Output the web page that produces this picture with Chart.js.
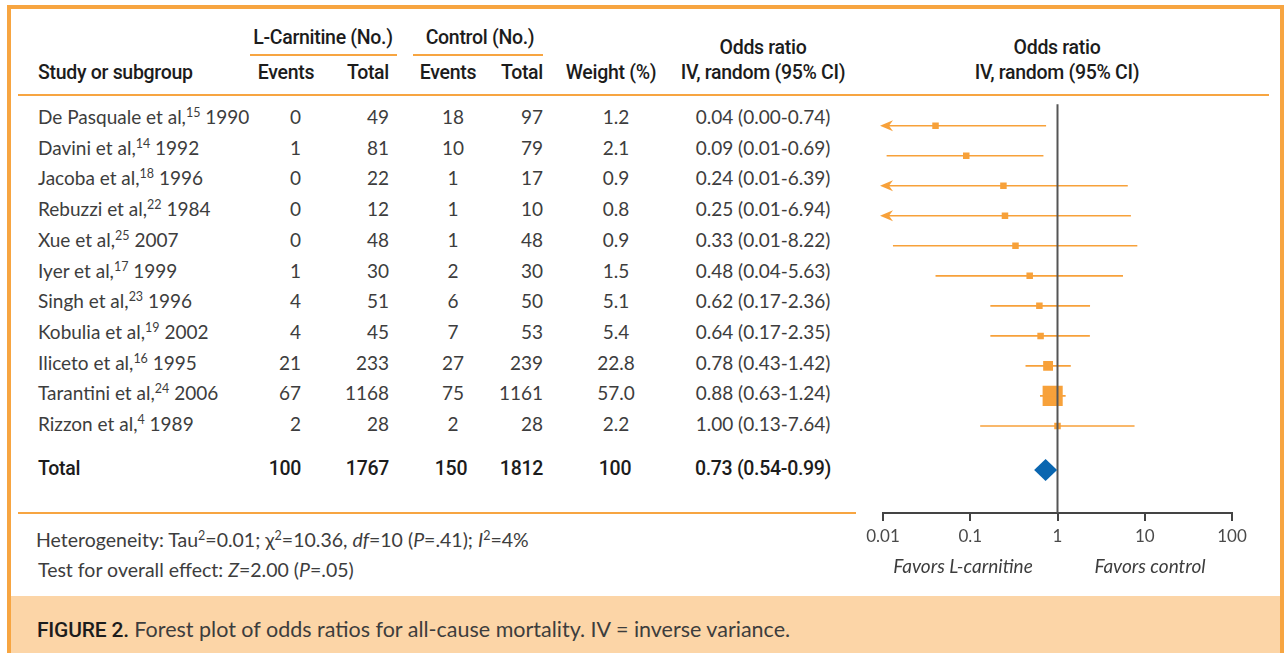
<!DOCTYPE html>
<html>
<head>
<meta charset="utf-8">
<script src="https://cdn.jsdelivr.net/npm/chart.js@4/dist/chart.umd.min.js"></script>
<style>
  html,body{margin:0;padding:0;background:#fff;}
  body{width:1288px;height:653px;position:relative;overflow:hidden;font-family:"Lato","Open Sans",sans-serif;color:#3d3d3d;}
  .frame{position:absolute;left:7px;top:5px;width:1269px;height:700px;border:4px solid #F7A541;}
  .cap{position:absolute;left:11px;top:596px;width:1269px;height:60px;background:#FCD5A7;}
  .hl{position:absolute;background:#F7A541;}
  .t{position:absolute;white-space:nowrap;font-size:19px;line-height:22px;}
  .h{font-family:"Roboto","Liberation Sans",sans-serif;font-weight:500;color:#1c1c1c;font-size:19.5px;letter-spacing:-0.3px;}
  .b{font-family:"Roboto","Liberation Sans",sans-serif;font-weight:500;color:#1c1c1c;}
  .ft{font-size:19.5px;}
  sup{font-size:12.5px;line-height:0;vertical-align:7px;}
  canvas{position:absolute;left:860px;top:90px;}
</style>
</head>
<body>
<div class="frame"></div>
<div class="cap"></div>
<div class="hl" style="left:18px;top:94px;width:1251px;height:2px;"></div>
<div class="hl" style="left:18px;top:512px;width:838px;height:2px;"></div>
<div class="hl" style="left:250px;top:54px;width:147px;height:2px;"></div>
<div class="hl" style="left:413px;top:54px;width:130px;height:2px;"></div>
<canvas id="c" width="400" height="500"></canvas>
<script>
// ---- data ----
const studies   = ["De Pasquale et al", "Davini et al", "Jacoba et al", "Rebuzzi et al", "Xue et al", "Iyer et al", "Singh et al", "Kobulia et al", "Iliceto et al", "Tarantini et al", "Rizzon et al"];
const refs      = [15, 14, 18, 22, 25, 17, 23, 19, 16, 24, 4];
const years     = [1990, 1992, 1996, 1984, 2007, 1999, 1996, 2002, 1995, 2006, 1989];
const lcEvents  = [0, 1, 0, 0, 0, 1, 4, 4, 21, 67, 2];
const lcTotal   = [49, 81, 22, 12, 48, 30, 51, 45, 233, 1168, 28];
const ctEvents  = [18, 10, 1, 1, 1, 2, 6, 7, 27, 75, 2];
const ctTotal   = [97, 79, 17, 10, 48, 30, 50, 53, 239, 1161, 28];
const weights   = [1.2, 2.1, 0.9, 0.8, 0.9, 1.5, 5.1, 5.4, 22.8, 57.0, 2.2];
const oddsRatio = [0.04, 0.09, 0.24, 0.25, 0.33, 0.48, 0.62, 0.64, 0.78, 0.88, 1.00];
const ciLower   = [0.004, 0.011, 0.009, 0.009, 0.013, 0.04, 0.17, 0.17, 0.43, 0.63, 0.13];
const ciUpper   = [0.74, 0.69, 6.39, 6.94, 8.22, 5.63, 2.36, 2.35, 1.42, 1.24, 7.64];
const total     = {lcEvents:100, lcTotal:1767, ctEvents:150, ctTotal:1812, weight:100, or:0.73, lo:0.54, hi:0.99};
const xTicks    = [0.01, 0.1, 1, 10, 100];
const xTickLabels = ["0.01", "0.1", "1", "10", "100"];

// ---- text table ----
function put(html, x, y, align, cls){
  const d = document.createElement('div');
  d.className = 't' + (cls ? ' ' + cls : '');
  d.innerHTML = html;
  d.style.left = x + 'px';
  d.style.top = y + 'px';
  const tx = align === 'c' ? '-50%' : (align === 'r' ? '-100%' : '0');
  d.style.transform = 'translate(' + tx + ',-50%)';
  document.body.appendChild(d);
}
const f2 = v => v.toFixed(2);
put("L-Carnitine (No.)", 323, 38, 'c', 'h');
put("Control (No.)", 480, 38, 'c', 'h');
put("Study or subgroup", 38, 73, 'l', 'h');
put("Events", 286, 73, 'c', 'h');
put("Total", 389, 73, 'r', 'h');
put("Events", 448, 73, 'c', 'h');
put("Total", 543, 73, 'r', 'h');
put("Weight (%)", 611, 73, 'c', 'h');
put("Odds ratio", 763, 48, 'c', 'h');
put("IV, random (95% CI)", 763, 73, 'c', 'h');
put("Odds ratio", 1057, 48, 'c', 'h');
put("IV, random (95% CI)", 1057, 73, 'c', 'h');

const rowY0 = 117, rowStep = 30.7;
studies.forEach((s, i) => {
  const y = rowY0 + i * rowStep;
  put(s + ",<sup>" + refs[i] + "</sup> " + years[i], 38, y, 'l');
  put(String(lcEvents[i]), 301, y, 'r');
  put(String(lcTotal[i]), 389, y, 'r');
  put(String(ctEvents[i]), 453, y, 'c');
  put(String(ctTotal[i]), 543, y, 'r');
  put(weights[i].toFixed(1), 616, y, 'c');
  put(f2(oddsRatio[i]) + " (" + f2(ciLower[i]) + "-" + f2(ciUpper[i]) + ")", 763, y, 'c');
});
const ty = 469;
put("Total", 38, ty, 'l', 'h');
put(String(total.lcEvents), 301, ty, 'r', 'h');
put(String(total.lcTotal), 389, ty, 'r', 'h');
put(String(total.ctEvents), 451, ty, 'c', 'h');
put(String(total.ctTotal), 543, ty, 'r', 'h');
put(String(total.weight), 615, ty, 'c', 'h');
put(f2(total.or) + " (" + f2(total.lo) + "-" + f2(total.hi) + ")", 763, ty, 'c', 'h');

put("Heterogeneity: Tau<sup>2</sup>=0.01; χ<sup>2</sup>=10.36, <i>df</i>=10 (<i>P</i>=.41); <i>I</i><sup>2</sup>=4%", 36, 540, 'l', 'ft');
put("Test for overall effect: <i>Z</i>=2.00 (<i>P</i>=.05)", 38, 570, 'l', 'ft');
put("<i>Favors L-carnitine</i>", 963, 566, 'c');
put("<i>Favors control</i>", 1150, 566, 'c');
put("<span class='b' style='font-size:21px;letter-spacing:-0.2px'>FIGURE 2.</span> Forest plot of odds ratios for all-cause mortality. IV = inverse variance.", 37, 629, 'l', '');
document.querySelectorAll('.t')[document.querySelectorAll('.t').length - 1].style.fontSize = '21.5px';

// ---- chart ----
const ORANGE = '#F7A13A';
const xMin = xTicks[0], xMax = xTicks[xTicks.length - 1];
const totalRow = 11.47;
const ciLines = studies.map((s, i) => ({
  type: 'line',
  data: [{x: Math.max(ciLower[i], xMin), y: i}, {x: ciUpper[i], y: i}],
  borderColor: ORANGE, borderWidth: 1.6, pointRadius: 0, fill: false
}));
const markers = {
  type: 'scatter',
  data: studies.map((s, i) => ({x: oddsRatio[i], y: i})),
  pointStyle: 'rect',
  pointRadius: weights.map(w => Math.max(6.5, 3 + 0.3 * w) / Math.SQRT2),
  backgroundColor: ORANGE, borderWidth: 0
};
const refLine = {
  type: 'line',
  data: [{x: 1, y: -1}, {x: 1, y: 14}],
  borderColor: '#555', borderWidth: 2, pointRadius: 0, fill: false
};

const extras = {
  id: 'extras',
  afterDatasetsDraw(chart) {
    const ctx = chart.ctx, xs = chart.scales.x, ys = chart.scales.y;
    ctx.save();
    ctx.fillStyle = ORANGE;
    ciLower.forEach((lo, i) => {
      if (lo < xMin) {
        const x0 = xs.getPixelForValue(xMin), y = ys.getPixelForValue(i);
        ctx.beginPath();
        ctx.moveTo(x0 - 3, y);
        ctx.lineTo(x0 + 10, y - 5.5);
        ctx.lineTo(x0 + 6, y);
        ctx.lineTo(x0 + 10, y + 5.5);
        ctx.closePath();
        ctx.fill();
      }
    });
    const yc = ys.getPixelForValue(totalRow);
    ctx.fillStyle = '#0A66B0';
    ctx.beginPath();
    ctx.moveTo(xs.getPixelForValue(total.lo), yc);
    ctx.lineTo(xs.getPixelForValue(total.or), yc - 11);
    ctx.lineTo(xs.getPixelForValue(total.hi), yc);
    ctx.lineTo(xs.getPixelForValue(total.or), yc + 11);
    ctx.closePath();
    ctx.fill();
    ctx.restore();
  }
};

new Chart(document.getElementById('c'), {
  data: { datasets: [refLine, ...ciLines, markers] },
  options: {
    responsive: false, animation: false,
    layout: { padding: { left: 23, right: 28, top: 5, bottom: 37 } },
    plugins: { legend: { display: false }, tooltip: { enabled: false } },
    scales: {
      x: {
        type: 'logarithmic', min: xMin, max: xMax,
        afterBuildTicks: s => { s.ticks = xTicks.map(v => ({value: v})); },
        afterFit: s => { s.height = 40; },
        ticks: {
          autoSkip: false, maxRotation: 0, padding: 5,
          color: '#4a4a4a', font: { family: 'Lato', size: 17 },
          callback: (v) => xTickLabels[xTicks.indexOf(v)] ?? ''
        },
        grid: { display: true, drawOnChartArea: false, drawTicks: true, tickLength: 8, color: '#444', lineWidth: 2 },
        border: { display: true, color: '#444', width: 2 }
      },
      y: {
        type: 'linear', reverse: true, min: -0.717, max: 12.9, display: false
      }
    }
  },
  plugins: [extras]
});
</script>
</body>
</html>
